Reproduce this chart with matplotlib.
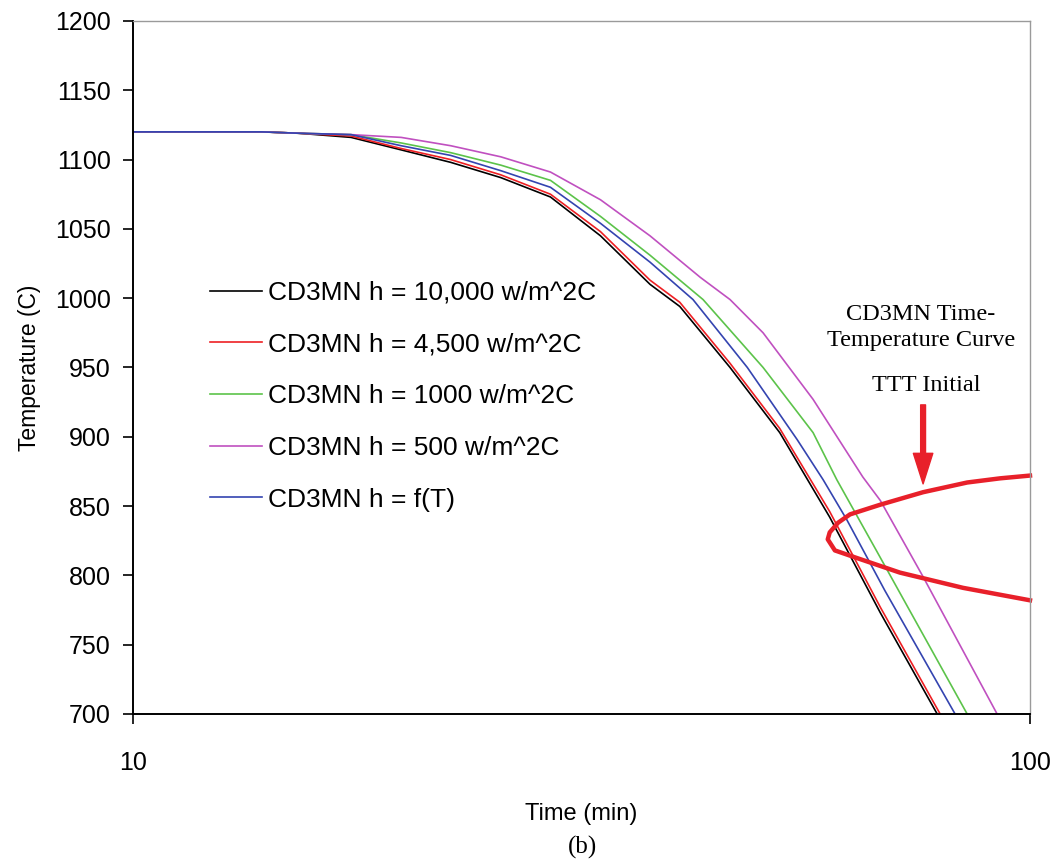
# CD3MN cooling curves vs TTT initial curve

import matplotlib
matplotlib.use("Agg")
import matplotlib.pyplot as plt
import numpy as np

# time (min) / temperature (C) for each heat transfer coefficient
t_h10000 = [10, 13.9, 15.3, 17.5, 19.9, 22.6, 25.7, 29.2, 33.2, 37.7, 40.7, 46.3, 52.6, 59.8, 68.1, 78.8]
T_h10000 = [1120, 1120, 1119, 1116, 1107, 1098, 1087, 1073, 1045, 1010, 994, 950, 903, 842, 773, 700]

t_h4500 = [10, 13.9, 15.3, 17.5, 19.9, 22.6, 25.7, 29.2, 33.2, 37.7, 40.7, 46.3, 52.6, 59.8, 68.1, 79.4]
T_h4500 = [1120, 1120, 1119, 1117, 1108, 1100, 1089, 1075, 1048, 1013, 997, 953, 906, 846, 777, 700]

t_h1000 = [10, 13.9, 15.3, 17.5, 19.9, 22.6, 25.7, 29.2, 33.2, 37.7, 43.2, 50.4, 57.3, 60.9, 67.4, 85.1]
T_h1000 = [1120, 1120, 1119, 1118, 1112, 1105, 1096, 1085, 1059, 1031, 999, 950, 903, 869, 818, 700]

t_h500 = [10, 13.9, 15.3, 17.5, 19.9, 22.6, 25.7, 29.2, 33.2, 37.7, 42.9, 46.3, 50.4, 57.3, 65.1, 68.1, 76.0, 91.9]
T_h500 = [1120, 1120, 1119, 1118, 1116, 1110, 1102, 1091, 1071, 1045, 1015, 999, 975, 927, 871, 854, 799, 700]

t_hfT = [10, 13.9, 15.3, 17.5, 19.9, 22.6, 25.7, 29.2, 33.2, 37.7, 42.1, 48.4, 55.0, 58.8, 62.5, 68.9, 82.5]
T_hfT = [1120, 1120, 1119, 1118, 1110, 1103, 1092, 1080, 1054, 1026, 999, 950, 898, 869, 840, 789, 700]

# TTT initial curve (upper branch -> nose -> lower branch)
t_ttt = [100, 92.6, 85.1, 76.0, 68.1, 63.0, 61.1, 59.8, 59.5, 60.6, 63.8, 71.6, 84.2, 100]
T_ttt = [872, 870, 867, 860, 851, 844, 838, 831, 826, 818, 813, 802, 791, 782]

labels = [
    "CD3MN h = 10,000 w/m^2C",
    "CD3MN h = 4,500 w/m^2C",
    "CD3MN h = 1000 w/m^2C",
    "CD3MN h = 500 w/m^2C",
    "CD3MN h = f(T)",
]
colors = ["#000000", "#ee2024", "#5cc34a", "#c050c0", "#3444b0"]

plt.rcParams["font.family"] = ["Liberation Sans", "DejaVu Sans"]

fig = plt.figure(figsize=(10.55, 8.63), dpi=100)
ax = fig.add_axes([0.1261, 0.1727, 0.8502, 0.803])

series = [(t_h10000, T_h10000), (t_h4500, T_h4500), (t_h1000, T_h1000),
          (t_h500, T_h500), (t_hfT, T_hfT)]
for (t, T), lab, c in zip(series, labels, colors):
    ax.plot(t, T, color=c, lw=1.2, label=lab)

ax.plot(t_ttt, T_ttt, color="#e8202a", lw=3.2, solid_joinstyle="round", clip_on=False)

ax.set_xscale("log")
ax.set_xlim(10, 100)
ax.set_ylim(700, 1200)
ax.set_xticks([10, 100])
ax.set_xticklabels(["10", "100"])
ax.minorticks_off()
ax.set_yticks(np.arange(700, 1201, 50))

ax.tick_params(axis="both", direction="out", length=7, width=1.2, labelsize=18)
ax.tick_params(axis="x", pad=20)
ax.tick_params(axis="y", pad=9)

for s in ["left", "bottom"]:
    ax.spines[s].set_color("black")
    ax.spines[s].set_linewidth(1.4)
for s in ["top", "right"]:
    ax.spines[s].set_color("#9a9a9a")
    ax.spines[s].set_linewidth(1.0)

ax.set_ylabel("Temperature (C)", fontsize=16.5, labelpad=10)
ax.set_xlabel("Time (min)", fontsize=17, labelpad=20)

leg = ax.legend(loc="upper left", bbox_to_anchor=(0.086, 0.625), frameon=False,
                fontsize=19, handlelength=1.95, handletextpad=0.25,
                labelspacing=1.05, borderpad=0, borderaxespad=0)

# annotation text and arrow
ax.text(75.6, 979, "CD3MN Time-\nTemperature Curve", ha="center", va="center",
        family="Liberation Serif", fontsize=17.5, linespacing=1.3)
ax.text(76.7, 937, "TTT Initial", ha="center", va="center",
        family="Liberation Serif", fontsize=17.5)
ax.annotate("", xy=(76.0, 866), xytext=(76.0, 923),
            arrowprops=dict(facecolor="#e8202a", edgecolor="#e8202a",
                            width=3.5, headwidth=14, headlength=22, shrink=0))

fig.text(0.552, 0.018, "(b)", ha="center", va="center",
         family="Liberation Serif", fontsize=18)

fig.savefig("out.png", dpi=100)
